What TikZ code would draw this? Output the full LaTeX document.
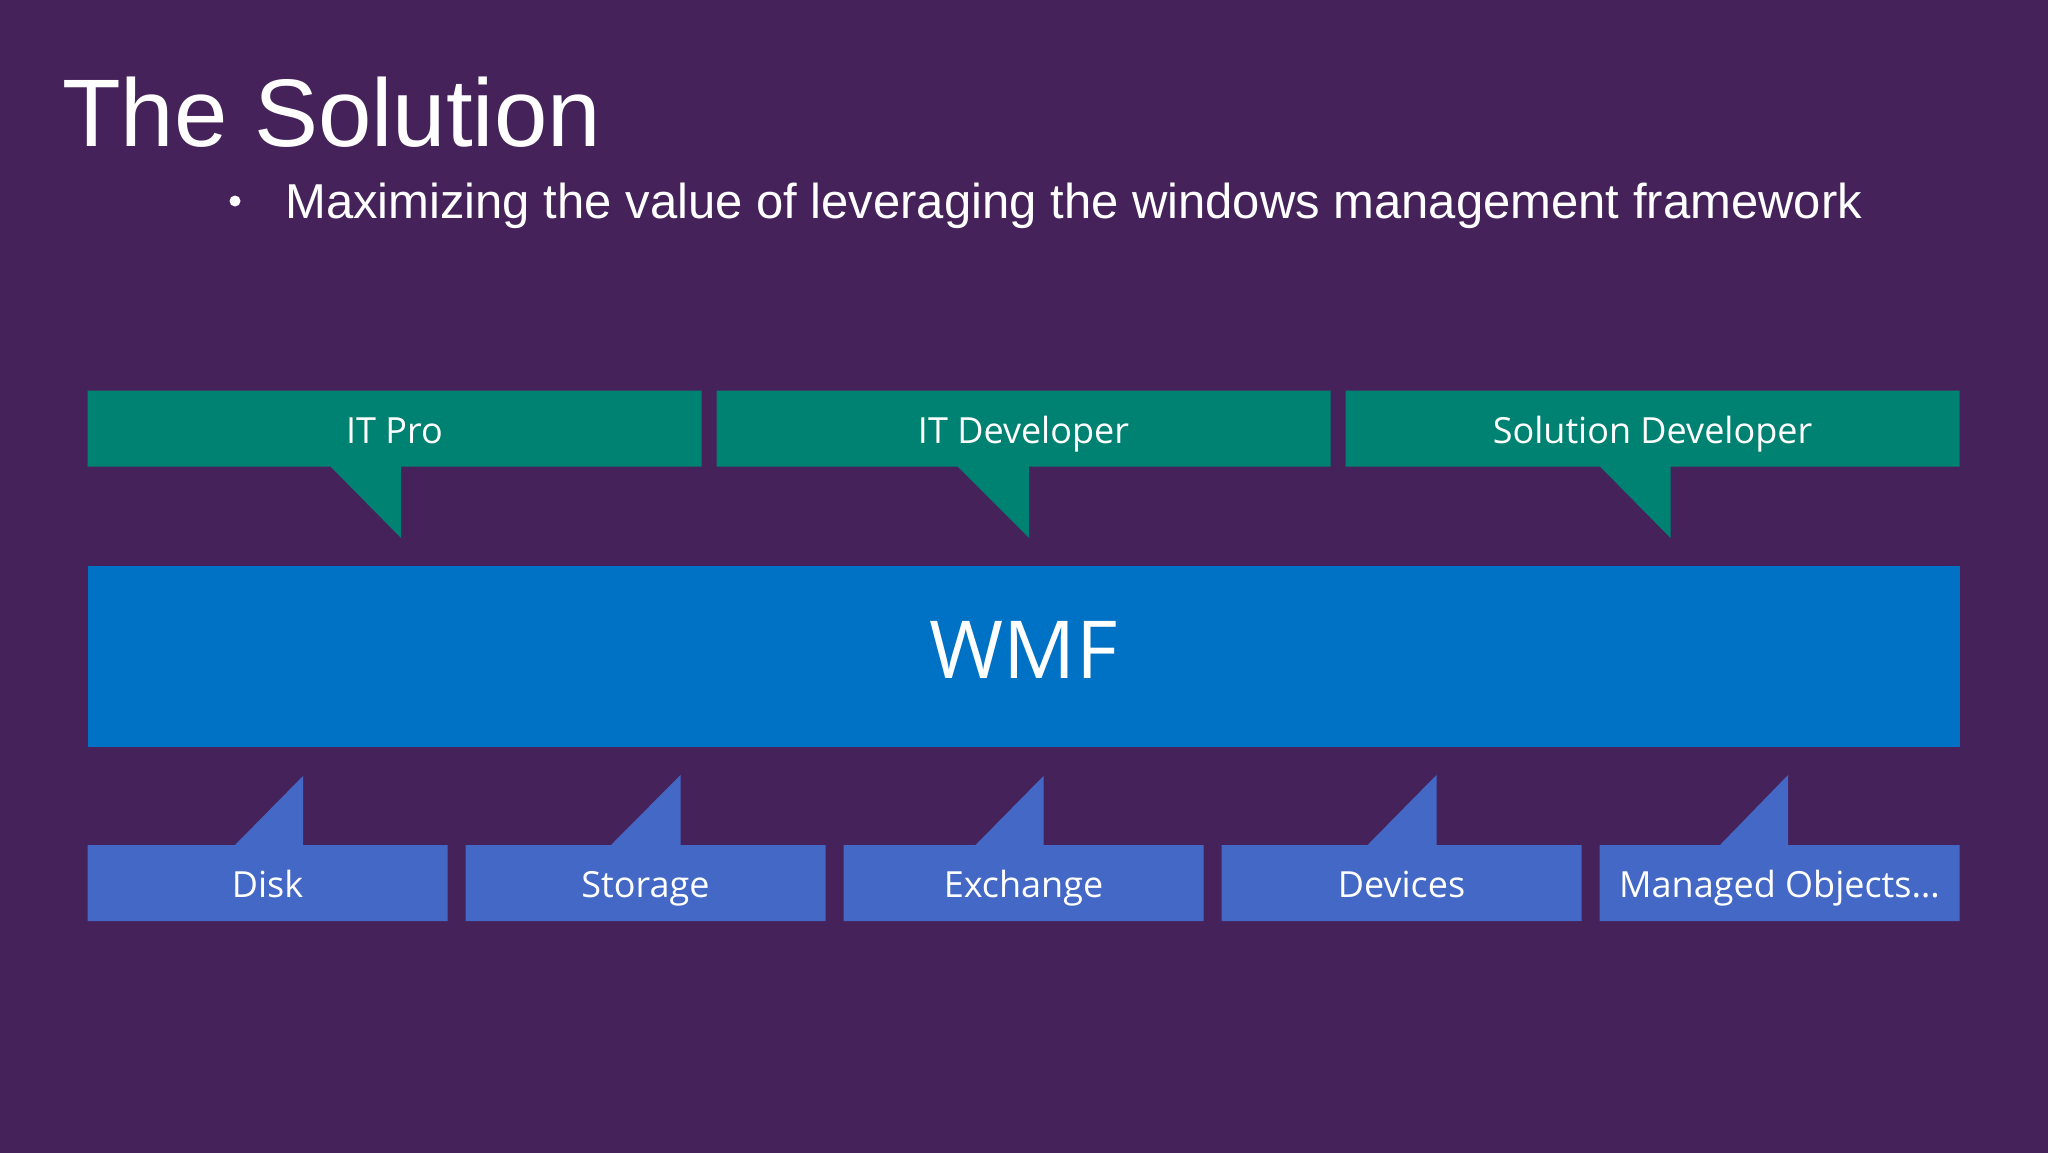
\documentclass[tikz,border=0pt]{standalone}
\usepackage{fontspec}
\setmainfont{Liberation Sans}
\newfontfamily\segoe{Open Sans}
\definecolor{bgpurple}{HTML}{46225A}
\definecolor{tealgreen}{HTML}{008272}
\definecolor{wmfblue}{HTML}{0072C6}
\definecolor{srcblue}{HTML}{4468C6}
\begin{document}
\begin{tikzpicture}[x=1pt,y=-1pt,
  rolebox/.style={fill=tealgreen,draw=none},
  srcbox/.style={fill=srcblue,draw=none},
  rolelabel/.style={anchor=base,text=white,inner sep=0pt,font=\segoe\fontsize{36}{40}\selectfont},
  srclabel/.style={anchor=base,text=white,inner sep=0pt,font=\segoe\fontsize{36}{40}\selectfont}]
\useasboundingbox (0,0) rectangle (2048,1152);
\fill[bgpurple] (-4,-4) rectangle (2052,1156);
% title
\node[anchor=base west,inner sep=0pt,text=white,font=\fontsize{96}{110}\selectfont] (title) at (62,146) {The Solution};
\fill[white] (235,201) circle (5.5);
\node[anchor=base west,inner sep=0pt,text=white,font=\fontsize{49}{58}\selectfont] (sub) at (285,218) {Maximizing the value of leveraging the windows management framework};
% role callouts (pointer down)
\fill[rolebox] (87.5,390.5) -- (701.5,390.5) -- (701.5,466.5) -- (401,466.5) -- (401,538) -- (330.5,466.5) -- (87.5,466.5) -- cycle;
\fill[rolebox] (716.5,390.5) -- (1330.5,390.5) -- (1330.5,466.5) -- (1029,466.5) -- (1029,538) -- (957.5,466.5) -- (716.5,466.5) -- cycle;
\fill[rolebox] (1345.5,390.5) -- (1959.5,390.5) -- (1959.5,466.5) -- (1670.5,466.5) -- (1670.5,538) -- (1600,466.5) -- (1345.5,466.5) -- cycle;
\node[rolelabel] (itpro) at (394.5,443) {IT Pro};
\node[rolelabel] (itdev) at (1023.5,443) {IT Developer};
\node[rolelabel] (soldev) at (1652.5,443) {Solution Developer};
% WMF bar
\fill[wmfblue] (87.5,565.5) rectangle (1959.5,747);
\node[anchor=base,inner sep=0pt,text=white,font=\segoe\fontsize{80}{90}\selectfont] (wmf) at (1023.5,678) {WMF};
% source callouts (pointer up)
\fill[srcbox] (87.5,845) -- (235,845) -- (303,776) -- (303,845) -- (447.5,845) -- (447.5,921) -- (87.5,921) -- cycle;
\fill[srcbox] (465.5,845) -- (611,845) -- (680.5,775) -- (680.5,845) -- (825.5,845) -- (825.5,921) -- (465.5,921) -- cycle;
\fill[srcbox] (843.5,845) -- (975.5,845) -- (1043.5,776) -- (1043.5,845) -- (1203.5,845) -- (1203.5,921) -- (843.5,921) -- cycle;
\fill[srcbox] (1221.5,845) -- (1367.5,845) -- (1436.5,775) -- (1436.5,845) -- (1581.5,845) -- (1581.5,921) -- (1221.5,921) -- cycle;
\fill[srcbox] (1599.5,845) -- (1720,845) -- (1788,775) -- (1788,845) -- (1959.5,845) -- (1959.5,921) -- (1599.5,921) -- cycle;
\node[srclabel] (disk) at (267.5,897) {Disk};
\node[srclabel] (storage) at (645.5,897) {Storage};
\node[srclabel] (exchange) at (1023.5,897) {Exchange};
\node[srclabel] (devices) at (1401.5,897) {Devices};
\node[srclabel] (managed) at (1779.5,897) {Managed Objects…};
\end{tikzpicture}
\end{document}
